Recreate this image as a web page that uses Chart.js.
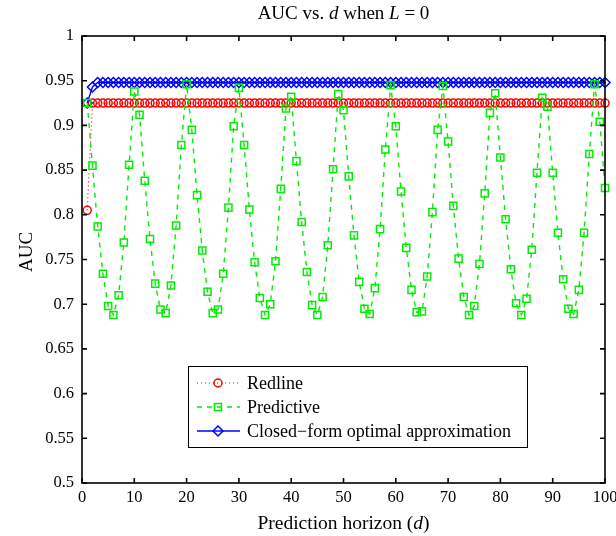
<!DOCTYPE html>
<html>
<head>
<meta charset="utf-8">
<script src="https://cdn.jsdelivr.net/npm/chart.js@4.4.1/dist/chart.umd.min.js"></script>
<style>
  body { margin: 0; background: #fff; }
  canvas { display: block; }
</style>
</head>
<body>
<canvas id="myChart" width="616" height="536"></canvas>
<script>
// prediction horizon d
const horizon = [
  1, 2, 3, 4, 5, 6, 7, 8, 9, 10, 11, 12, 13, 14, 15, 16, 17, 18, 19, 20,
  21, 22, 23, 24, 25, 26, 27, 28, 29, 30, 31, 32, 33, 34, 35, 36, 37, 38, 39, 40,
  41, 42, 43, 44, 45, 46, 47, 48, 49, 50, 51, 52, 53, 54, 55, 56, 57, 58, 59, 60,
  61, 62, 63, 64, 65, 66, 67, 68, 69, 70, 71, 72, 73, 74, 75, 76, 77, 78, 79, 80,
  81, 82, 83, 84, 85, 86, 87, 88, 89, 90, 91, 92, 93, 94, 95, 96, 97, 98, 99, 100
];

const redline = [
  0.805, 0.925, 0.925, 0.925, 0.925, 0.925, 0.925, 0.925, 0.925, 0.925,
  0.925, 0.925, 0.925, 0.925, 0.925, 0.925, 0.925, 0.925, 0.925, 0.925,
  0.925, 0.925, 0.925, 0.925, 0.925, 0.925, 0.925, 0.925, 0.925, 0.925,
  0.925, 0.925, 0.925, 0.925, 0.925, 0.925, 0.925, 0.925, 0.925, 0.925,
  0.925, 0.925, 0.925, 0.925, 0.925, 0.925, 0.925, 0.925, 0.925, 0.925,
  0.925, 0.925, 0.925, 0.925, 0.925, 0.925, 0.925, 0.925, 0.925, 0.925,
  0.925, 0.925, 0.925, 0.925, 0.925, 0.925, 0.925, 0.925, 0.925, 0.925,
  0.925, 0.925, 0.925, 0.925, 0.925, 0.925, 0.925, 0.925, 0.925, 0.925,
  0.925, 0.925, 0.925, 0.925, 0.925, 0.925, 0.925, 0.925, 0.925, 0.925,
  0.925, 0.925, 0.925, 0.925, 0.925, 0.925, 0.925, 0.925, 0.925, 0.925
];

const predictive = [
  0.925, 0.855, 0.787, 0.734, 0.698, 0.688, 0.710, 0.769, 0.856, 0.938,
  0.912, 0.838, 0.773, 0.723, 0.694, 0.690, 0.721, 0.788, 0.878, 0.946,
  0.895, 0.822, 0.760, 0.714, 0.690, 0.694, 0.734, 0.808, 0.899, 0.942,
  0.878, 0.806, 0.747, 0.707, 0.688, 0.700, 0.748, 0.829, 0.919, 0.932,
  0.860, 0.792, 0.736, 0.699, 0.688, 0.708, 0.766, 0.851, 0.935, 0.917,
  0.843, 0.777, 0.725, 0.695, 0.689, 0.718, 0.784, 0.873, 0.945, 0.899,
  0.826, 0.763, 0.716, 0.691, 0.692, 0.731, 0.803, 0.895, 0.944, 0.882,
  0.810, 0.751, 0.708, 0.688, 0.698, 0.745, 0.824, 0.914, 0.936, 0.864,
  0.795, 0.739, 0.701, 0.688, 0.706, 0.761, 0.847, 0.931, 0.921, 0.847,
  0.780, 0.728, 0.695, 0.689, 0.716, 0.780, 0.868, 0.946, 0.904, 0.830
];

const closedForm = [
  0.925, 0.943, 0.948, 0.948, 0.948, 0.948, 0.948, 0.948, 0.948, 0.948,
  0.948, 0.948, 0.948, 0.948, 0.948, 0.948, 0.948, 0.948, 0.948, 0.948,
  0.948, 0.948, 0.948, 0.948, 0.948, 0.948, 0.948, 0.948, 0.948, 0.948,
  0.948, 0.948, 0.948, 0.948, 0.948, 0.948, 0.948, 0.948, 0.948, 0.948,
  0.948, 0.948, 0.948, 0.948, 0.948, 0.948, 0.948, 0.948, 0.948, 0.948,
  0.948, 0.948, 0.948, 0.948, 0.948, 0.948, 0.948, 0.948, 0.948, 0.948,
  0.948, 0.948, 0.948, 0.948, 0.948, 0.948, 0.948, 0.948, 0.948, 0.948,
  0.948, 0.948, 0.948, 0.948, 0.948, 0.948, 0.948, 0.948, 0.948, 0.948,
  0.948, 0.948, 0.948, 0.948, 0.948, 0.948, 0.948, 0.948, 0.948, 0.948,
  0.948, 0.948, 0.948, 0.948, 0.948, 0.948, 0.948, 0.948, 0.948, 0.948
];

const seriesNames = ['Redline', 'Predictive', 'Closed\u2212form optimal approximation'];
const xTicks = [0, 10, 20, 30, 40, 50, 60, 70, 80, 90, 100];
const yTicks = [0.5, 0.55, 0.6, 0.65, 0.7, 0.75, 0.8, 0.85, 0.9, 0.95, 1];

const FONT = '"Liberation Serif", "Times New Roman", serif';

function pairs(ys) {
  return horizon.map((x, i) => ({ x: x, y: ys[i] }));
}

// text with some italic pieces, centred on cx
function drawRich(ctx, parts, cx, cy, size) {
  let total = 0;
  parts.forEach(p => {
    ctx.font = (p[1] ? 'italic ' : '') + size + 'px ' + FONT;
    total += ctx.measureText(p[0]).width;
  });
  let x = cx - total / 2;
  ctx.textAlign = 'left';
  ctx.textBaseline = 'middle';
  parts.forEach(p => {
    ctx.font = (p[1] ? 'italic ' : '') + size + 'px ' + FONT;
    ctx.fillText(p[0], x, cy);
    x += ctx.measureText(p[0]).width;
  });
}

const matlabFrame = {
  id: 'matlabFrame',
  afterDatasetsDraw(chart) {
    const ctx = chart.ctx;
    const a = chart.chartArea;
    const xs = chart.scales.x, ys = chart.scales.y;
    ctx.save();
    ctx.strokeStyle = '#000';
    ctx.lineWidth = 1.6;
    ctx.strokeRect(a.left, a.top, a.right - a.left, a.bottom - a.top);
    ctx.beginPath();
    xTicks.forEach(v => {
      const px = xs.getPixelForValue(v);
      ctx.moveTo(px, a.bottom); ctx.lineTo(px, a.bottom - 5);
      ctx.moveTo(px, a.top); ctx.lineTo(px, a.top + 5);
    });
    yTicks.forEach(v => {
      const py = ys.getPixelForValue(v);
      ctx.moveTo(a.left, py); ctx.lineTo(a.left + 5, py);
      ctx.moveTo(a.right, py); ctx.lineTo(a.right - 5, py);
    });
    ctx.stroke();

    // legend box
    const lx = 188, ly = 366, lw = 339, lh = 81;
    ctx.fillStyle = '#fff';
    ctx.fillRect(lx, ly, lw, lh);
    ctx.strokeStyle = '#000';
    ctx.lineWidth = 1;
    ctx.strokeRect(lx + 0.5, ly + 0.5, lw, lh);
    const rows = [383, 407, 431];
    chart.data.datasets.forEach((ds, i) => {
      const y = rows[i];
      ctx.strokeStyle = ds.borderColor;
      ctx.lineWidth = ds.borderWidth;
      ctx.setLineDash(ds.borderDash || []);
      ctx.beginPath();
      ctx.moveTo(197, y); ctx.lineTo(240, y);
      ctx.stroke();
      ctx.setLineDash([]);
      ctx.fillStyle = 'rgba(0,0,0,0)';
      ctx.lineWidth = ds.pointBorderWidth;
      Chart.helpers.drawPoint(ctx, {
        pointStyle: ds.pointStyle, radius: ds.pointRadius, borderWidth: ds.pointBorderWidth
      }, 218, y);
      ctx.fillStyle = '#000';
      ctx.font = '18px ' + FONT;
      ctx.textAlign = 'left';
      ctx.textBaseline = 'middle';
      ctx.fillText(ds.label, 247, y + 1);
    });

    // titles
    ctx.fillStyle = '#000';
    const cx = (a.left + a.right) / 2;
    drawRich(ctx, [['AUC vs. ', false], ['d', true], [' when ', false], ['L', true], [' = 0', false]], cx, 14, 19);
    drawRich(ctx, [['Prediction horizon (', false], ['d', true], [')', false]], cx, 524, 19.5);
    ctx.save();
    ctx.translate(27, 252);
    ctx.rotate(-Math.PI / 2);
    drawRich(ctx, [['AUC', false]], 0, 0, 19);
    ctx.restore();
    ctx.restore();
  }
};

const ctx = document.getElementById('myChart').getContext('2d');
new Chart(ctx, {
  type: 'line',
  data: {
    datasets: [
      {
        label: seriesNames[0],
        data: pairs(redline),
        borderColor: '#ff0000',
        borderWidth: 1.2,
        borderDash: [1, 3],
        pointStyle: 'circle',
        pointRadius: 4,
        pointBorderWidth: 1.5,
        pointBorderColor: '#ff0000',
        pointBackgroundColor: 'rgba(0,0,0,0)',
        order: 3
      },
      {
        label: seriesNames[1],
        data: pairs(predictive),
        borderColor: '#00ee00',
        borderWidth: 1.4,
        borderDash: [5, 5],
        pointStyle: 'rect',
        pointRadius: 5,
        pointBorderWidth: 1.5,
        pointBorderColor: '#00ee00',
        pointBackgroundColor: 'rgba(0,0,0,0)',
        order: 1
      },
      {
        label: seriesNames[2],
        data: pairs(closedForm),
        borderColor: '#0000ff',
        borderWidth: 1.4,
        pointStyle: 'rectRot',
        pointRadius: 5,
        pointBorderWidth: 1.5,
        pointBorderColor: '#0000ff',
        pointBackgroundColor: 'rgba(0,0,0,0)',
        order: 2
      }
    ]
  },
  options: {
    responsive: false,
    animation: false,
    clip: false,
    layout: { padding: { top: 36, right: 11, left: 0, bottom: 0 } },
    plugins: {
      legend: { display: false },
      title: { display: false },
      tooltip: { enabled: false }
    },
    scales: {
      x: {
        type: 'linear',
        min: 0,
        max: 100,
        afterBuildTicks: s => { s.ticks = xTicks.map(v => ({ value: v })); },
        ticks: { color: '#000', font: { family: FONT, size: 16.5 }, padding: 5, maxRotation: 0 },
        grid: { display: false, drawTicks: false },
        border: { display: false },
        afterFit: s => { s.height = 53; s.paddingLeft = 0; s.paddingRight = 0; }
      },
      y: {
        min: 0.5,
        max: 1,
        afterBuildTicks: s => { s.ticks = yTicks.map(v => ({ value: v })); },
        ticks: {
          color: '#000', font: { family: FONT, size: 16.5 }, padding: 8,
          callback: v => String(Number(v.toFixed(2)))
        },
        grid: { display: false, drawTicks: false },
        border: { display: false },
        afterFit: s => { s.width = 82; s.paddingTop = 0; s.paddingBottom = 0; }
      }
    }
  },
  plugins: [matlabFrame]
});
</script>
</body>
</html>
